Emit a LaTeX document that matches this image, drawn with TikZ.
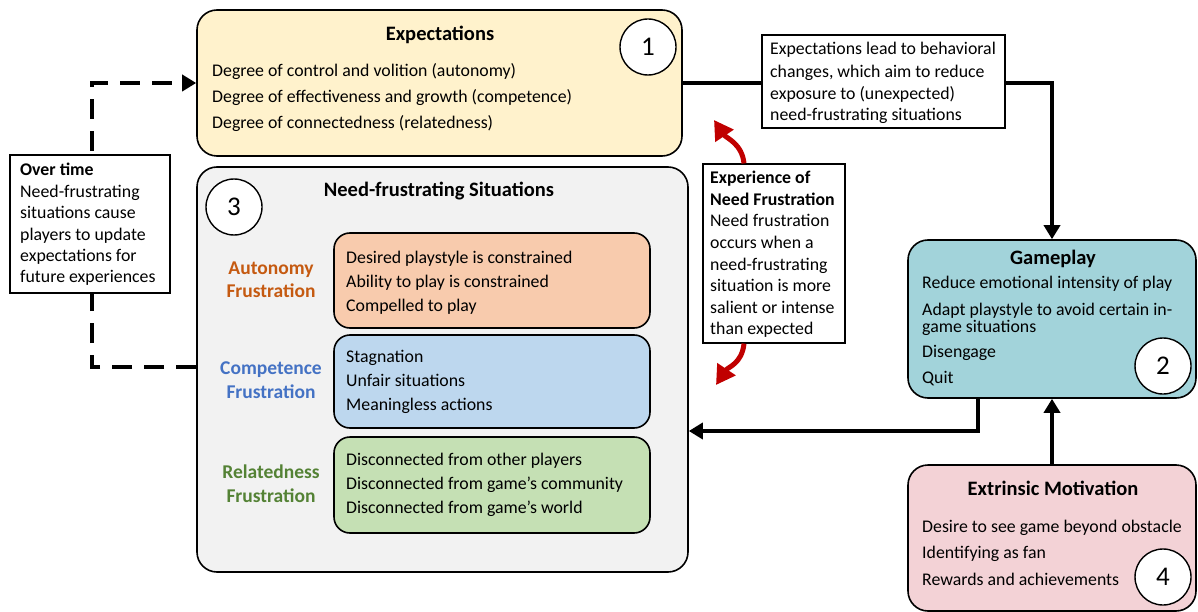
\documentclass[tikz,border=0pt]{standalone}
\usepackage{fontspec}
\setmainfont{Carlito}
\usetikzlibrary{arrows.meta}
\definecolor{expc}{HTML}{FFF2CC}
\definecolor{needc}{HTML}{F2F2F2}
\definecolor{autc}{HTML}{F8CBAD}
\definecolor{comc}{HTML}{BDD7EE}
\definecolor{relc}{HTML}{C5E0B4}
\definecolor{gamec}{HTML}{A2D3DA}
\definecolor{extc}{HTML}{F3D2D6}
\definecolor{autt}{HTML}{C55A11}
\definecolor{comt}{HTML}{4472C4}
\definecolor{relt}{HTML}{548235}
\definecolor{redc}{HTML}{C00000}
\tikzset{
 big/.style={draw, line width=1.6pt, rounded corners=20pt, inner sep=0pt},
 innerbox/.style={draw, line width=1.6pt, rounded corners=16pt, minimum width=316pt, inner sep=0pt},
 note/.style={draw, line width=1.2pt, fill=white, inner sep=0pt},
 num/.style={circle, draw, line width=1.4pt, fill=white, minimum size=56pt, inner sep=0pt, font=\fontsize{27}{30}\selectfont},
 itm/.style={anchor=mid west, inner sep=0pt, yshift=-3.5pt, font=\fontsize{17.8}{21}\selectfont},
 lbl/.style={anchor=mid, inner sep=0pt, yshift=-3.5pt, font=\fontsize{19.5}{22}\selectfont\bfseries},
 ttl/.style={anchor=mid, inner sep=0pt, yshift=-4pt, font=\fontsize{20.5}{24}\selectfont\bfseries},
 conn/.style={line width=4pt, -{Triangle[length=14pt,width=16pt]}},
 dconn/.style={line width=4.5pt, dash pattern=on 20pt off 12pt, -{Triangle[length=14pt,width=16pt]}},
 rconn/.style={line width=5pt, draw=redc, -{Triangle[length=19pt,width=21pt]}},
}
\begin{document}
\begin{tikzpicture}[x=1pt,y=-1pt]
\useasboundingbox (0,0) rectangle (1198,612);
% main boxes
\node[big, fill=expc, minimum width=485pt, minimum height=146pt] (exp) at (439.5,83) {};
\node[big, fill=needc, minimum width=491pt, minimum height=405pt] (need) at (442.5,369.5) {};
\node[big, fill=gamec, minimum width=288pt, minimum height=158pt] (gp) at (1052,319) {};
\node[big, fill=extc, minimum width=288pt, minimum height=146pt] (ext) at (1052,538) {};

% connectors
\draw[conn] (exp.east) -| (gp.north);
\draw[conn] ([xshift=-74pt]gp.south) |- ([yshift=-61.5pt]need.east);
\draw[conn] (ext.north) -- (gp.south);
\draw[dconn] ([yshift=2.5pt]need.west) -- ++(-104,0) |- (exp.west);

% red arrow tips
\coordinate (rtop) at (714,120);
\coordinate (rbot) at (716,385);

% Expectations content
\node[ttl] (expt) at (440,34) {Expectations};
\node[itm] (e1) at (212,71) {Degree of control and volition (autonomy)};
\node[itm] (e2) at (212,97) {Degree of effectiveness and growth (competence)};
\node[itm] (e3) at (212,123) {Degree of connectedness (relatedness)};
\node[num] (n1) at (648,47) {1};

% Need-frustrating content
\node[ttl] (needt) at (439,190) {Need-frustrating Situations};
\node[num] (n3) at (234,207) {3};
\node[innerbox, fill=autc, minimum height=95pt] (aut) at (492,280.5) {};
\node[innerbox, fill=comc, minimum height=93pt] (com) at (492,381.5) {};
\node[innerbox, fill=relc, minimum height=96pt] (rel) at (492,485) {};
\node[lbl, text=autt] (al1) at (271,269) {Autonomy};
\node[lbl, text=autt] (al2) at (271,292) {Frustration};
\node[lbl, text=comt] (cl1) at (271,369) {Competence};
\node[lbl, text=comt] (cl2) at (271,393) {Frustration};
\node[lbl, text=relt] (rl1) at (271,473) {Relatedness};
\node[lbl, text=relt] (rl2) at (271,497) {Frustration};
\node[itm] (a1) at (346,258) {Desired playstyle is constrained};
\node[itm] (a2) at (346,282) {Ability to play is constrained};
\node[itm] (a3) at (346,306) {Compelled to play};
\node[itm] (c1) at (346,357) {Stagnation};
\node[itm] (c2) at (346,381) {Unfair situations};
\node[itm] (c3) at (346,405) {Meaningless actions};
\node[itm] (r1) at (346,460) {Disconnected from other players};
\node[itm] (r2) at (346,484) {Disconnected from game’s community};
\node[itm] (r3) at (346,508) {Disconnected from game’s world};

% Over time note
\node[note, minimum width=160pt, minimum height=138pt] (over) at (90,224) {};
\node[itm, font=\fontsize{17.8}{21}\selectfont\bfseries] (o0) at (20,170) {Over time};
\node[itm] (o1) at (20,192) {Need-frustrating};
\node[itm] (o2) at (20,213) {situations cause};
\node[itm] (o3) at (20,235) {players to update};
\node[itm] (o4) at (20,256) {expectations for};
\node[itm] (o5) at (20,277) {future experiences};

% Label note on connector
\node[note, minimum width=243pt, minimum height=93pt] (lab) at (883.5,81.5) {};
\node[itm] (l1) at (770,49) {Expectations lead to behavioral};
\node[itm] (l2) at (770,72) {changes, which aim to reduce};
\node[itm] (l3) at (770,94) {exposure to (unexpected)};
\node[itm] (l4) at (770,115) {need-frustrating situations};

% Experience note
\node[note, minimum width=142pt, minimum height=179pt] (expn) at (774,253.5) {};
\draw[rconn] ([xshift=-30pt]expn.north) .. controls ++(-2,-20) and ++(12,18) .. (rtop);
\draw[rconn] ([xshift=-30pt]expn.south) .. controls ++(-2,20) and ++(12,-18) .. (rbot);
\node[itm, font=\fontsize{17.8}{21}\selectfont\bfseries] (x1) at (710,178) {Experience of};
\node[itm, font=\fontsize{17.8}{21}\selectfont\bfseries] (x2) at (710,200) {Need Frustration};
\node[itm] (x3) at (710,221) {Need frustration};
\node[itm] (x4) at (710,243) {occurs when a};
\node[itm] (x5) at (710,265) {need-frustrating};
\node[itm] (x6) at (710,286) {situation is more};
\node[itm] (x7) at (710,308) {salient or intense};
\node[itm] (x8) at (710,329) {than expected};

% Gameplay content
\node[ttl] (gpt) at (1053,258) {Gameplay};
\node[itm] (g1) at (922,283) {Reduce emotional intensity of play};
\node[itm] (g2) at (922,310) {Adapt playstyle to avoid certain in-};
\node[itm] (g3) at (922,327) {game situations};
\node[itm] (g4) at (922,352) {Disengage};
\node[itm] (g5) at (922,378) {Quit};
\node[num] (n2) at (1163,366) {2};

% Extrinsic content
\node[ttl] (extt) at (1053,489) {Extrinsic Motivation};
\node[itm] (m1) at (922,527) {Desire to see game beyond obstacle};
\node[itm] (m2) at (922,553) {Identifying as fan};
\node[itm] (m3) at (922,580) {Rewards and achievements};
\node[num] (n4) at (1163,577) {4};
\end{tikzpicture}
\end{document}
